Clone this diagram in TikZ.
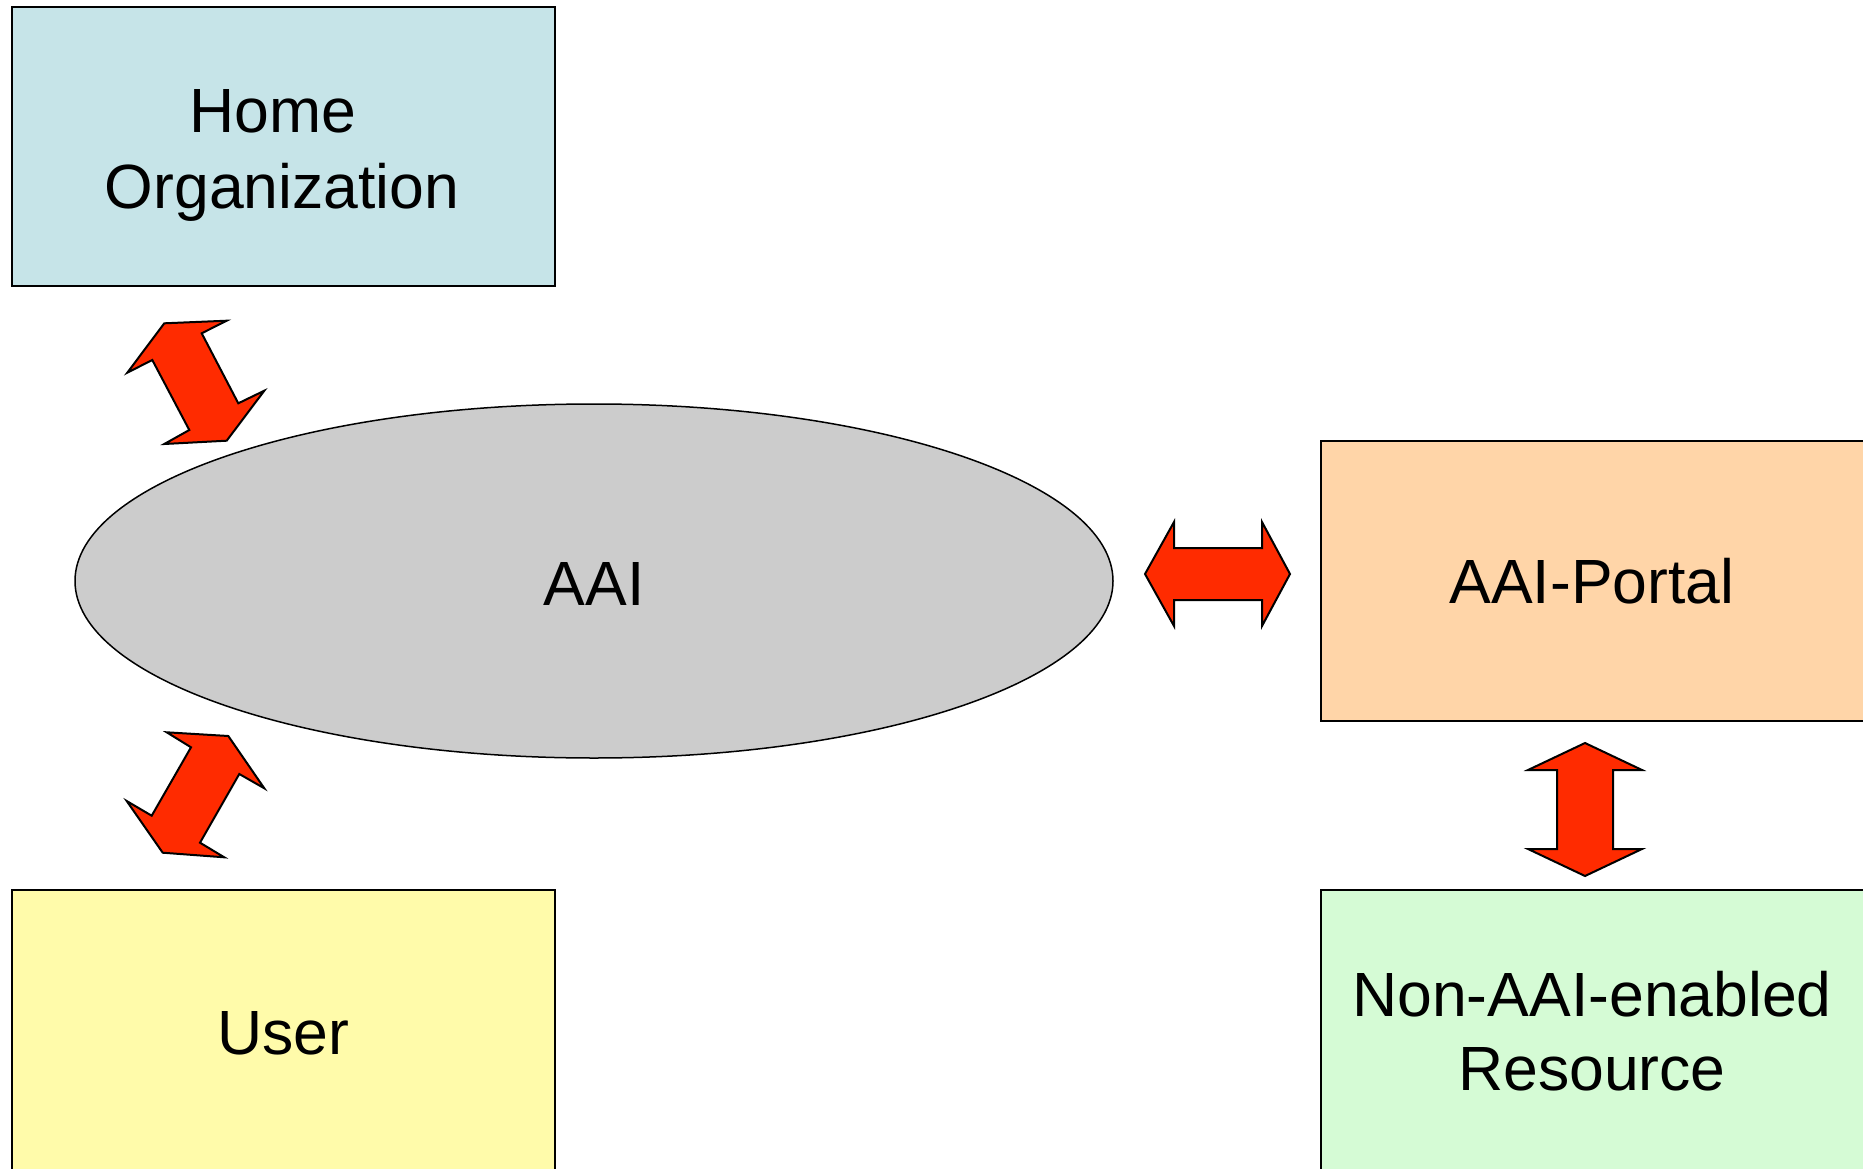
\documentclass[tikz,border=0pt]{standalone}
\usepackage{fontspec}
\setmainfont{Liberation Sans}
\usetikzlibrary{shapes.geometric}
\definecolor{homeblue}{HTML}{C6E4E8}
\definecolor{portalorange}{HTML}{FFD5A8}
\definecolor{useryellow}{HTML}{FFFBAA}
\definecolor{resgreen}{HTML}{D5FBD5}
\definecolor{aaigray}{HTML}{CCCCCC}
\definecolor{arrowred}{HTML}{FF2B00}
\begin{document}
\begin{tikzpicture}[x=1pt,y=-1pt,
  box/.style={draw=black, line width=1.5pt, rectangle, inner sep=0pt},
  lbl/.style={anchor=base, inner sep=0pt, font=\fontsize{62.5}{75}\selectfont},
  blockarrow/.style={draw=black, fill=arrowred, line width=2pt, line join=miter}]
\useasboundingbox (0,0) rectangle (1863,1169);
% boxes
\node[box, fill=homeblue, minimum width=543pt, minimum height=279pt] (home) at (283.5,146.5) {};
\node[box, fill=useryellow, minimum width=543pt, minimum height=282pt] (user) at (283.5,1031) {};
\node[box, fill=portalorange, minimum width=545pt, minimum height=280pt] (portal) at (1593.5,581) {};
\node[box, fill=resgreen, minimum width=545pt, minimum height=282pt] (res) at (1593.5,1031) {};
\node[ellipse, draw=black, line width=1.5pt, fill=aaigray, minimum width=1038pt, minimum height=354pt, inner sep=0pt] (aai) at (594,581) {};
% labels
\node[lbl] (homeT1) at (273,133) {Home};
\node[lbl] (homeT2) at (282,208) {Organization};
\node[lbl] (aaiT) at (594,605) {AAI};
\node[lbl] (portalT) at (1592,603) {AAI-Portal};
\node[lbl] (userT) at (283,1054) {User};
\node[lbl] (resT1) at (1592,1016) {Non-AAI-enabled};
\node[lbl] (resT2) at (1592,1090) {Resource};
% block arrows
\draw[blockarrow] (164.3,323.3) -- (226.7,320.7) -- (201.7,333.3) -- (238.3,403.3) -- (264.3,390.7) -- (226.7,440.7) -- (164.3,444) -- (189.3,430) -- (152.3,360) -- (127.3,372.7) -- cycle;
\draw[blockarrow] (166.7,732.3) -- (228.3,736) -- (264.3,788.3) -- (239.3,774) -- (200,842.7) -- (224.3,857.3) -- (162.7,852.7) -- (126.7,801) -- (151.7,815.7) -- (191,747.3) -- cycle;
\draw[blockarrow] (1145,574) -- (1174,522) -- (1174,548) -- (1262,548) -- (1262,522) -- (1290,574) -- (1262,626) -- (1262,600) -- (1174,600) -- (1174,626) -- cycle;
\draw[blockarrow] (1585,743) -- (1642,770) -- (1613,770) -- (1613,849) -- (1642,849) -- (1585,876) -- (1528,849) -- (1557,849) -- (1557,770) -- (1528,770) -- cycle;
\end{tikzpicture}
\end{document}
